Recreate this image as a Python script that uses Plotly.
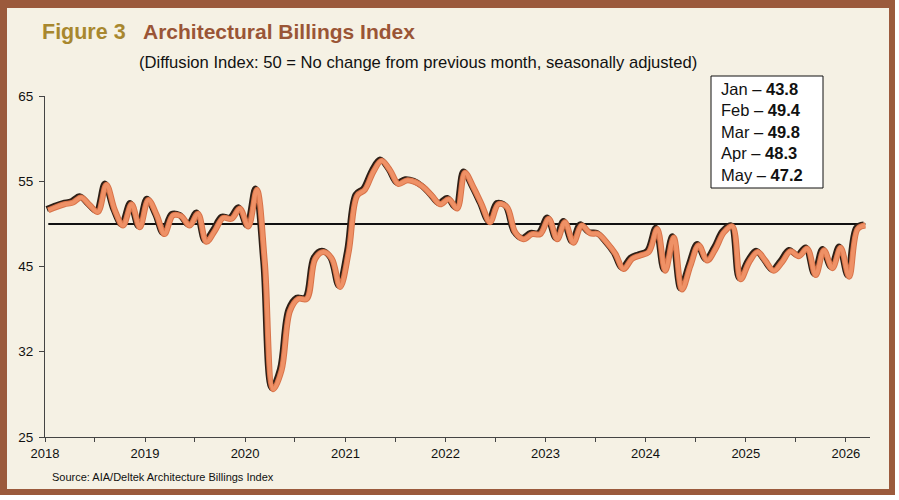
import pandas as pd
import plotly.graph_objects as go

# ---------------- data ----------------
start_month = "2018-01"
abi_values = [
    # 2018
    51.6, 52.0, 52.3, 52.5, 53.1, 52.2, 51.4, 54.6, 51.6, 49.8, 52.3, 49.6,
    # 2019
    52.8, 51.0, 48.8, 51.0, 50.9, 49.8, 51.2, 47.9, 49.2, 50.7, 50.6, 51.8,
    # 2020
    49.7, 54.0, 45.5, 30.6, 32.8, 39.8, 41.2, 41.2, 45.9, 46.7, 45.9, 42.6,
    # 2021
    46.7, 53.3, 54.0, 56.1, 57.4, 56.3, 54.7, 55.1, 54.9, 54.3, 53.3, 52.3,
    # 2022
    52.9, 51.8, 56.0, 54.3, 52.3, 50.2, 52.3, 52.0, 49.0, 48.2, 48.8, 48.8,
    # 2023
    50.6, 48.2, 50.2, 47.8, 49.8, 48.9, 48.8, 47.8, 46.5, 44.7, 45.9, 46.3,
    # 2024
    46.7, 49.4, 44.5, 48.4, 42.3, 45.1, 47.5, 45.7, 47.1, 49.0, 49.7, 43.5,
    # 2025
    45.5, 46.7, 45.7, 44.5, 45.5, 46.8, 46.2, 47.1, 44.0, 46.9, 44.8, 47.2,
    # 2026
    43.8, 49.4, 49.8,
]
baseline_value = 50
box_months = ["Jan", "Feb", "Mar", "Apr", "May"]
box_values = ["43.8", "49.4", "49.8", "48.3", "47.2"]
y_tickvals = [25, 35, 45, 55, 65]
y_ticktext = ["25", "32", "45", "55", "65"]

dates = pd.date_range(start_month, periods=len(abi_values), freq="MS") + pd.Timedelta(days=12)

# ---------------- layout geometry ----------------
W, H = 899, 500
L, R, T, B = 45, 29, 96, 63
PW, PH = W - L - R, H - T - B

def px(x):
    return (x - L) / PW

def py(y):
    return (H - B - y) / PH

x_start = pd.Timestamp("2018-01-01")
x_end = pd.Timestamp("2026-03-30")
y_min, y_max = 25, 65

per_px = (x_end - x_start) / PW
dx, dy = 1.6, 1.2
x2_range = [x_start + per_px * dx, x_end + per_px * dx]
y_shift = dy * (y_max - y_min) / PH
y2_range = [y_min - y_shift, y_max - y_shift]

BROWN = "#9B5A3C"
CREAM = "#F5F1E4"
GOLD = "#A8872E"
FONT = "Liberation Sans, Arial, Helvetica, sans-serif"

fig = go.Figure()

# reference line at 50
fig.add_trace(go.Scatter(
    x=[dates[0], dates[-1]], y=[baseline_value, baseline_value],
    mode="lines", line=dict(color="#111111", width=2),
    hoverinfo="skip", showlegend=False))

# shadow (overlay axes shifted up-left)
fig.add_trace(go.Scatter(
    x=dates, y=abi_values, xaxis="x2", yaxis="y2", mode="lines",
    line=dict(color="#2E1F16", width=6, shape="spline", smoothing=1.0),
    hoverinfo="skip", showlegend=False))
# orange edge (overlay axes with the same range as the main axes, drawn on top)
fig.add_trace(go.Scatter(
    x=dates, y=abi_values, xaxis="x3", yaxis="y3", mode="lines",
    line=dict(color="#D8744A", width=6, shape="spline", smoothing=1.0),
    hoverinfo="skip", showlegend=False))
# orange centre
fig.add_trace(go.Scatter(
    x=dates, y=abi_values, xaxis="x3", yaxis="y3", mode="lines",
    line=dict(color="#EF9166", width=4, shape="spline", smoothing=1.0),
    showlegend=False))

shapes = [
    dict(type="rect", xref="paper", yref="paper", layer="below",
         x0=px(0), x1=px(895), y0=py(495), y1=py(0),
         fillcolor=BROWN, line=dict(width=0)),
    dict(type="rect", xref="paper", yref="paper", layer="below",
         x0=px(7), x1=px(889), y0=py(489), y1=py(8),
         fillcolor=CREAM, line=dict(width=0)),
    dict(type="rect", xref="paper", yref="paper", layer="below",
         x0=px(711), x1=px(823), y0=py(188), y1=py(76),
         fillcolor="white", line=dict(color="#111111", width=1)),
]

box_lines = [f"{m} – <b>{v}</b>" for m, v in zip(box_months, box_values)]

annotations = [
    dict(text="<b>Figure 3</b>", x=px(40), y=py(32), xanchor="left", yanchor="middle",
         font=dict(family=FONT, size=21.5, color=GOLD)),
    dict(text="<b>Architectural Billings Index</b>", x=px(141), y=py(32), xanchor="left",
         yanchor="middle", font=dict(family=FONT, size=21, color="#9A5536")),
    dict(text="(Diffusion Index: 50 = No change from previous month, seasonally adjusted)",
         x=px(137), y=py(62), xanchor="left", yanchor="middle",
         font=dict(family=FONT, size=16.6, color="#111111")),
    dict(text="<br>".join(box_lines), x=px(719), y=py(132), xanchor="left", yanchor="middle",
         align="left", font=dict(family=FONT, size=16.5, color="#111111")),
    dict(text="Source: AIA/Deltek Architecture Billings Index", x=px(50), y=py(477),
         xanchor="left", yanchor="middle", font=dict(family=FONT, size=11, color="#111111")),
]
for a in annotations:
    a.update(xref="paper", yref="paper", showarrow=False)

fig.update_layout(
    width=W, height=H,
    margin=dict(l=L, r=R, t=T, b=B, pad=0),
    paper_bgcolor="white",
    plot_bgcolor="rgba(0,0,0,0)",
    font=dict(family=FONT, size=12.5, color="#111111"),
    shapes=shapes,
    annotations=annotations,
    xaxis=dict(
        type="date", range=[x_start, x_end],
        tick0="2018-01-01", dtick="M12", tickformat="%Y",
        ticks="outside", ticklen=4, tickcolor="#444444", tickwidth=1,
        showline=True, linecolor="#444444", linewidth=1,
        showgrid=False, zeroline=False,
        minor=dict(dtick="M6", ticks="outside", ticklen=4, tickcolor="#444444", showgrid=False),
        tickfont=dict(family=FONT, size=13, color="#111111"),
    ),
    yaxis=dict(
        range=[y_min, y_max], tickvals=y_tickvals, ticktext=y_ticktext,
        ticks="outside", ticklen=5, tickcolor="#444444", tickwidth=1,
        showline=True, linecolor="#444444", linewidth=1,
        showgrid=False, zeroline=False, ticklabelstandoff=3,
        tickfont=dict(family=FONT, size=13.5, color="#111111"),
    ),
    xaxis2=dict(type="date", range=x2_range, overlaying="x", anchor="y2", visible=False),
    yaxis2=dict(range=y2_range, overlaying="y", anchor="x2", visible=False),
    xaxis3=dict(type="date", range=[x_start, x_end], overlaying="x", anchor="y3", visible=False),
    yaxis3=dict(range=[y_min, y_max], overlaying="y", anchor="x3", visible=False),
)

fig.write_html("out.html")
